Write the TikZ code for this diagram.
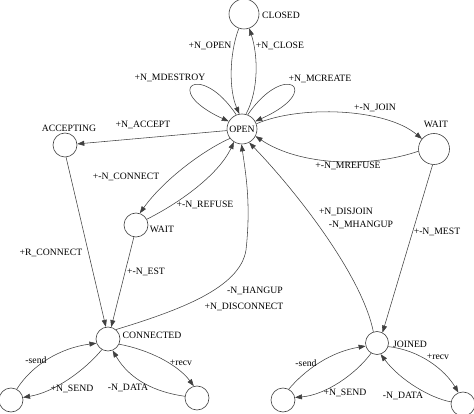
\documentclass[tikz,border=0pt]{standalone}
\usepackage{fontspec}
\setmainfont{Liberation Serif}
\usetikzlibrary{arrows.meta}
\begin{document}
\begin{tikzpicture}[x=1pt,y=-1pt,
  st/.style={draw=black!75,line width=0.6pt,circle,inner sep=0pt,minimum size=#1},
  st/.default=24pt,
  lbl/.style={inner sep=0pt,font=\fontsize{9.7}{11}\selectfont},
  tr/.style={draw=black!75,line width=0.55pt,-{Triangle[length=7pt,width=5pt]}}]
\useasboundingbox (0,0) rectangle (474,414);
% states
\node[st=30pt] (closed) at (244,14) {};
\node[st=30pt,lbl] (open) at (242,129) {OPEN};
\node[st=24pt] (acc) at (65,145) {};
\node[st=31pt] (waitr) at (434,149) {};
\node[st=24pt] (waitm) at (136,225) {};
\node[st=24pt] (conn) at (108,339) {};
\node[st=23pt] (join) at (377,343) {};
\node[st=24pt] (cl) at (11,400) {};
\node[st=24pt] (cr) at (197,398) {};
\node[st=24pt] (jl) at (283,400) {};
\node[st=24pt] (jr) at (463,404) {};
% state names
\node[lbl] (nclosed) at (281,15) {CLOSED};
\node[lbl] (nacc) at (69,128) {ACCEPTING};
\node[lbl] (nwaitr) at (436,124) {WAIT};
\node[lbl] (nwaitm) at (162,229) {WAIT};
\node[lbl] (nconn) at (152,335) {CONNECTED};
\node[lbl] (njoin) at (410,344) {JOINED};
% transitions
\draw[tr] (closed.250) .. controls (229,55) and (229,90) .. (open.100);
\draw[tr] (open.75) .. controls (259,90) and (258,55) .. (closed.290);
\draw[tr] (open.112) .. controls (200,60) and (160,90) .. (open.150);
\draw[tr] (open.68) .. controls (285,60) and (325,90) .. (open.30);
\draw[tr] (open.186) -- (acc.5);
\draw[tr] (open.20) .. controls (300,105) and (385,108) .. (waitr.140);
\draw[tr] (waitr.188) .. controls (370,168) and (300,166) .. (open.-28);
\draw[tr] (open.218) .. controls (200,152) and (162,182) .. (waitm.72);
\draw[tr] (waitm.28) .. controls (185,200) and (220,172) .. (open.238);
\draw[tr] (acc.-85) -- (conn.100);
\draw[tr] (waitm.-100) -- (conn.75);
\draw[tr] (conn.50) .. controls (180,310) and (240,288) .. (246,250)
  .. controls (251,205) and (246,175) .. (open.-92);
\draw[tr] (join.108) .. controls (362,275) and (295,190) .. (open.-62);
\draw[tr] (waitr.-95) -- (join.62);
% connected loops
\draw[tr] (cl.62) .. controls (32,365) and (60,348) .. (conn.200);
\draw[tr] (conn.240) .. controls (85,370) and (55,392) .. (cl.12);
\draw[tr] (conn.-25) .. controls (150,350) and (178,365) .. (cr.105);
\draw[tr] (cr.172) .. controls (155,392) and (130,380) .. (conn.-68);
% joined loops
\draw[tr] (jl.62) .. controls (305,370) and (330,352) .. (join.195);
\draw[tr] (join.240) .. controls (355,375) and (325,395) .. (jl.12);
\draw[tr] (join.-18) .. controls (420,350) and (445,370) .. (jr.112);
\draw[tr] (jr.170) .. controls (430,398) and (400,380) .. (join.-72);
% labels
\node[lbl] (l1) at (210,46) {+N\_OPEN};
\node[lbl] (l2) at (280,46) {+N\_CLOSE};
\node[lbl] (l3) at (170,78) {+N\_MDESTROY};
\node[lbl] (l4) at (320,79) {+N\_MCREATE};
\node[lbl] (l5) at (375,108) {+-N\_JOIN};
\node[lbl] (l6) at (143,125) {+N\_ACCEPT};
\node[lbl] (l7) at (348,166) {+-N\_MREFUSE};
\node[lbl] (l8) at (126,177) {+-N\_CONNECT};
\node[lbl] (l9) at (205,205) {+-N\_REFUSE};
\node[lbl] (l10) at (346,212) {+N\_DISJOIN};
\node[lbl] (l11) at (361,225) {-N\_MHANGUP};
\node[lbl] (l12) at (437,232) {+-N\_MEST};
\node[lbl] (l13) at (51,253) {+R\_CONNECT};
\node[lbl] (l14) at (146,272) {+-N\_EST};
\node[lbl] (l15) at (255,291) {-N\_HANGUP};
\node[lbl] (l16) at (244,307) {+N\_DISCONNECT};
\node[lbl] (l17) at (36,360) {-send};
\node[lbl] (l18) at (72,389) {+N\_SEND};
\node[lbl] (l19) at (128,388) {-N\_DATA};
\node[lbl] (l20) at (181,363) {+recv};
\node[lbl] (l21) at (306,363) {-send};
\node[lbl] (l22) at (345,393) {+N\_SEND};
\node[lbl] (l23) at (403,396) {-N\_DATA};
\node[lbl] (l24) at (438,357) {+recv};
\end{tikzpicture}
\end{document}
